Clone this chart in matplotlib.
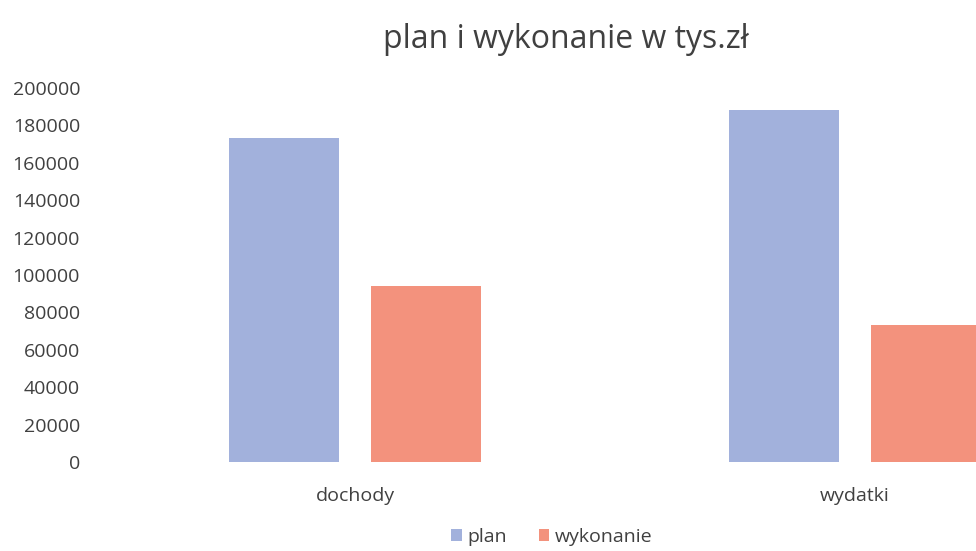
import matplotlib
matplotlib.use("Agg")
import matplotlib.pyplot as plt
import numpy as np

categories = ["dochody", "wydatki"]
series_names = ["plan", "wykonanie"]
plan = [173500, 188000]
wykonanie = [94000, 73000]
yticks = [0, 20000, 40000, 60000, 80000, 100000, 120000, 140000, 160000, 180000, 200000]

colors = ["#a2b1dc", "#f3927d"]
text_color = "#404040"
plt.rcParams["font.family"] = ["Open Sans", "DejaVu Sans"]

W, H = 976, 551
fig = plt.figure(figsize=(W / 100, H / 100), dpi=100)
left, right = 105, 1105
bottom, top = 462, 88
ax = fig.add_axes([left / W, (H - bottom) / H, (right - left) / W, (bottom - top) / H])

x = np.arange(len(categories))
bw = 0.22
off = 0.142
ax.bar(x - off, plan, width=bw, color=colors[0], label=series_names[0])
ax.bar(x + off, wykonanie, width=bw, color=colors[1], label=series_names[1])

ax.set_xlim(-0.5, 1.5)
ax.set_ylim(0, 200000)
ax.set_yticks(yticks)
ax.set_yticklabels([str(v) for v in yticks], fontsize=14, color=text_color)
ax.set_xticks(x)
ax.set_xticklabels(categories, fontsize=14, color=text_color)
ax.tick_params(axis="both", length=0)
ax.tick_params(axis="x", pad=18)
ax.tick_params(axis="y", pad=18)
for s in ax.spines.values():
    s.set_visible(False)

fig.text(566 / W, 1 - 40 / H, "plan i wykonanie w tys.zł", ha="center", va="center",
         fontsize=23, color=text_color)

handles, labels = ax.get_legend_handles_labels()
fig.legend(handles, labels, loc="center", bbox_to_anchor=(552 / W, 1 - 537 / H), ncol=2,
           frameon=False, fontsize=14, handlelength=0.55, handleheight=0.55,
           handletextpad=0.3, columnspacing=1.6, labelcolor=text_color)

fig.savefig("out.png", dpi=100)
